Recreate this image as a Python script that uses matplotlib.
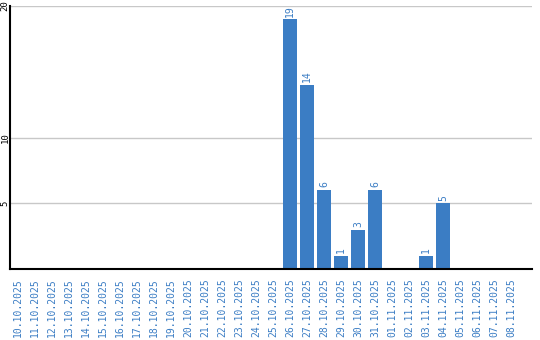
import matplotlib
matplotlib.use("Agg")
import matplotlib.pyplot as plt
import numpy as np

dates = ["10.10.2025", "11.10.2025", "12.10.2025", "13.10.2025", "14.10.2025",
         "15.10.2025", "16.10.2025", "17.10.2025", "18.10.2025", "19.10.2025",
         "20.10.2025", "21.10.2025", "22.10.2025", "23.10.2025", "24.10.2025",
         "25.10.2025", "26.10.2025", "27.10.2025", "28.10.2025", "29.10.2025",
         "30.10.2025", "31.10.2025", "01.11.2025", "02.11.2025", "03.11.2025",
         "04.11.2025", "05.11.2025", "06.11.2025", "07.11.2025", "08.11.2025"]
values = [0, 0, 0, 0, 0, 0, 0, 0, 0, 0, 0, 0, 0, 0, 0, 0,
          19, 14, 6, 1, 3, 6, 0, 0, 1, 5, 0, 0, 0, 0]
yticks = [5, 10, 20]

blue = "#3b7dc4"
fig = plt.figure(figsize=(5.4, 3.4), dpi=100)
ax = fig.add_axes([10/540, 71/340, 522/540, 263/340])

x = np.arange(len(dates))
ax.bar(x, values, width=0.82, color=blue, zorder=3)
for xi, v in zip(x, values):
    if v > 0:
        ax.text(xi, v + 0.2, str(v), rotation=90, ha="center", va="bottom",
                color=blue, fontsize=7, family="DejaVu Sans Mono")

ax.set_xlim(-0.47, 30.24)
ax.set_ylim(0, 20)
ax.set_yticks(yticks)
ax.set_yticklabels([str(t) for t in yticks], rotation=90, va="center",
                   ha="center", fontsize=6.5, family="DejaVu Sans Mono")
ax.grid(axis="y", color="#c8c8c8", linewidth=1, zorder=0)
ax.set_xticks(x)
ax.set_xticklabels(dates, rotation=90, color=blue, fontsize=7,
                   family="DejaVu Sans Mono")
ax.tick_params(axis="both", length=0, pad=7)
ax.tick_params(axis="y", pad=3.6)
for s in ["top", "right"]:
    ax.spines[s].set_visible(False)
for s in ["left", "bottom"]:
    ax.spines[s].set_color("black")
    ax.spines[s].set_linewidth(1.5)
    ax.spines[s].set_zorder(4)

fig.savefig("out.png", dpi=100)
